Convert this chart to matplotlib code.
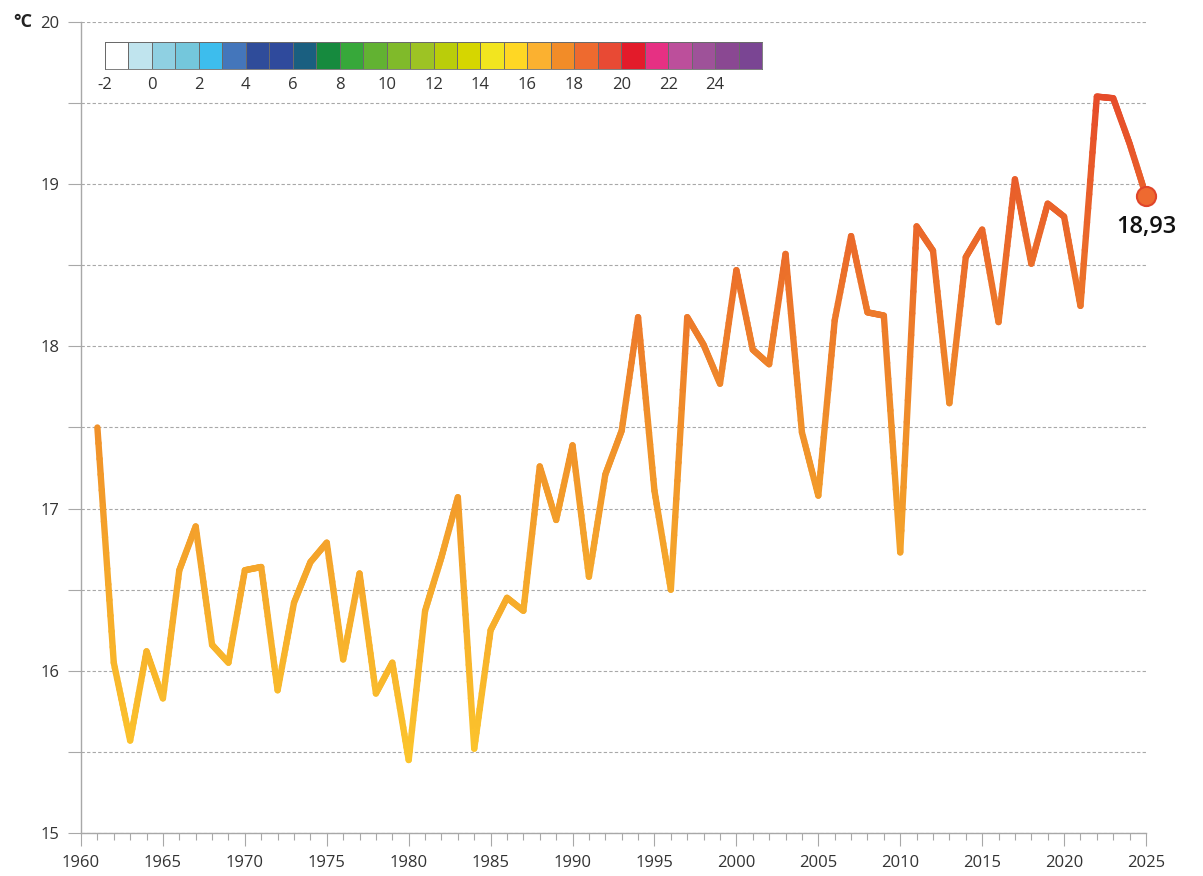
import numpy as np
import matplotlib
matplotlib.use("Agg")
import matplotlib.pyplot as plt
from matplotlib.collections import LineCollection
from matplotlib.colors import LinearSegmentedColormap, ListedColormap, Normalize
from matplotlib.ticker import MultipleLocator, FuncFormatter

# yearly mean temperature (°C)
years = np.arange(1961, 2026)
temps = [17.50, 16.05, 15.57, 16.12, 15.83, 16.62, 16.89, 16.16, 16.05, 16.62,
         16.64, 15.88, 16.42, 16.67, 16.79, 16.07, 16.60, 15.86, 16.05, 15.45,
         16.37, 16.70, 17.07, 15.52, 16.25, 16.45, 16.37, 17.26, 16.93, 17.39,
         16.58, 17.21, 17.48, 18.18, 17.11, 16.50, 18.18, 18.01, 17.77, 18.47,
         17.98, 17.89, 18.57, 17.47, 17.08, 18.16, 18.68, 18.21, 18.19, 16.73,
         18.74, 18.59, 17.65, 18.55, 18.72, 18.15, 19.03, 18.51, 18.88, 18.80,
         18.25, 19.54, 19.53, 19.25, 18.93]

# colour scale legend
scale_values = np.arange(-2, 26)
scale_colors = ['#FFFFFF', '#C0E4EE', '#8FD0E2', '#74C7DC', '#3DBDED', '#4476BB',
                '#2F4C9A', '#2F4A9C', '#1A5F80', '#168A3E', '#37A83A', '#62B232',
                '#80BA2A', '#9DC324', '#BACD0A', '#D6D600', '#F2E51F', '#FFD724',
                '#FBB130', '#F28C28', '#EE6A2F', '#E84A34', '#E31B2A', '#E63083',
                '#BC4F9B', '#9E5299', '#8A4892', '#7A4593']
scale_ticks = np.arange(-2, 25, 2)

plt.rcParams['font.family'] = ['Open Sans', 'DejaVu Sans']
plt.rcParams['axes.unicode_minus'] = False

grey = '#A8A8A8'
txt = '#333333'

fig = plt.figure(figsize=(12.03, 8.76), dpi=100)
ax = fig.add_axes([81 / 1203, 43 / 876, 1065 / 1203, 811 / 876])

# gradient line coloured by temperature
line_cmap = LinearSegmentedColormap.from_list(
    'temp', [(0.0, '#FCC62C'), (0.5, '#F0902A'), (1.0, '#E64A2A')])
norm = Normalize(15.4, 19.6)
x = years.astype(float)
y = np.asarray(temps)
segs, vals = [], []
t = np.linspace(0, 1, 16)
for i in range(len(x) - 1):
    xs = x[i] + (x[i + 1] - x[i]) * t
    ys = y[i] + (y[i + 1] - y[i]) * t
    for j in range(len(t) - 1):
        segs.append([(xs[j], ys[j]), (xs[j + 1], ys[j + 1])])
        vals.append((ys[j] + ys[j + 1]) / 2)
lc = LineCollection(segs, cmap=line_cmap, norm=norm, linewidths=4.6,
                    capstyle='round', joinstyle='round', zorder=3)
lc.set_array(np.asarray(vals))
ax.add_collection(lc)

# last value marker and label
ax.scatter([years[-1]], [temps[-1]], s=190, color='#EE6A30', edgecolor='#E0452A',
           linewidth=1.5, zorder=5, clip_on=False)
ax.annotate(f"{temps[-1]:.2f}".replace('.', ','), (years[-1], temps[-1]),
            xytext=(0, -31), textcoords='offset pixels', ha='center', va='center',
            fontsize=17, fontweight='semibold', color='#111111', zorder=6)

ax.set_xlim(1960, 2025)
ax.set_ylim(15, 20)
ax.xaxis.set_major_locator(MultipleLocator(5))
ax.xaxis.set_minor_locator(MultipleLocator(1))
ax.yaxis.set_major_locator(MultipleLocator(0.5))
ax.yaxis.set_major_formatter(FuncFormatter(lambda v, p: f"{v:.0f}" if v == int(v) else ""))

ax.grid(axis='y', color=grey, linestyle=(0, (3, 2)), linewidth=0.8)
ax.set_axisbelow(True)
for s in ['top', 'right']:
    ax.spines[s].set_visible(False)
for s in ['left', 'bottom']:
    ax.spines[s].set_color(grey)
    ax.spines[s].set_linewidth(1)

ax.tick_params(axis='both', which='major', length=9.5, width=0.8, color=grey,
               labelsize=12, labelcolor=txt, pad=6)
ax.tick_params(axis='x', which='minor', length=5, width=0.8, color=grey)

fig.text(13 / 1203, 1 - 22 / 876, '°C', fontsize=13, fontweight='bold',
         color='#222222', va='center', ha='left')

# colour scale strip
cax = fig.add_axes([105 / 1203, 1 - 69 / 876, 657 / 1203, 27 / 876])
edges = np.arange(scale_values[0], scale_values[-1] + 2)
cax.pcolormesh(edges, [0, 1], scale_values.reshape(1, -1),
               cmap=ListedColormap(scale_colors),
               norm=Normalize(scale_values[0] - 0.5, scale_values[-1] + 0.5),
               edgecolors='#6A6A6A', linewidth=0.5)
cax.set_xlim(edges[0], edges[-1])
cax.set_ylim(0, 1)
cax.set_yticks([])
cax.set_xticks(scale_ticks)
cax.set_xticklabels([str(v) for v in scale_ticks])
cax.tick_params(axis='x', length=0, labelsize=12, labelcolor=txt, pad=6)
for s in cax.spines.values():
    s.set_color('#6A6A6A')
    s.set_linewidth(0.6)

fig.savefig('out.png', dpi=100)
